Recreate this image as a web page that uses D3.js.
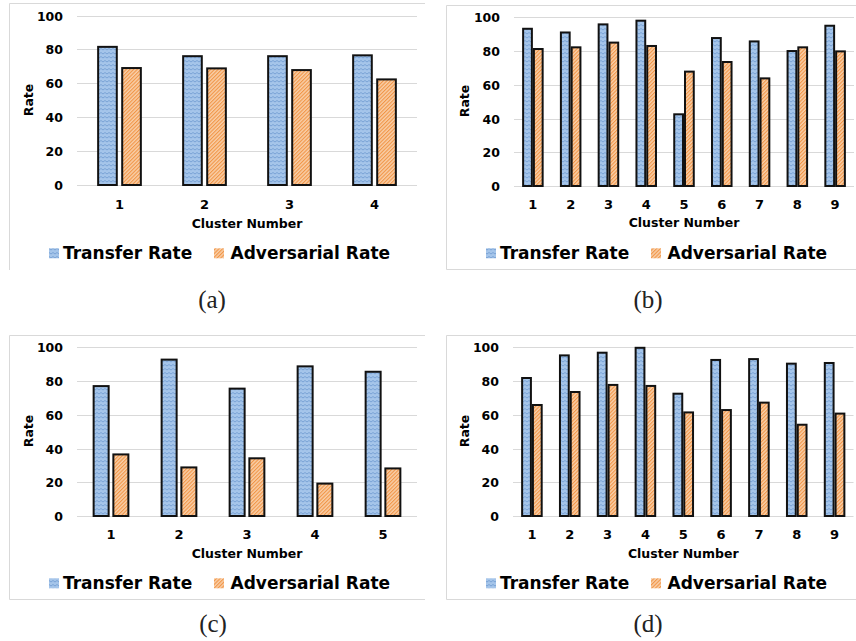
<!DOCTYPE html>
<html>
<head>
<meta charset="utf-8">
<script src="https://cdn.jsdelivr.net/npm/d3@7/dist/d3.min.js"></script>
<style>
  html, body { margin: 0; padding: 0; background: #fff; }
  svg { display: block; }
</style>
</head>
<body>
<svg id="fig" width="856" height="641"></svg>
<script>
// ---- data -------------------------------------------------------------
const categoriesA = ["1", "2", "3", "4"];
const transferA = [81.5, 76, 76, 76.5];
const adversarialA = [69, 68.8, 67.8, 62.3];

const categoriesB = ["1", "2", "3", "4", "5", "6", "7", "8", "9"];
const transferB = [93.2, 91, 95.8, 98, 42.5, 87.7, 85.7, 80, 95];
const adversarialB = [81.2, 82.2, 85, 83, 67.8, 73.5, 63.8, 82.2, 79.8];

const categoriesC = ["1", "2", "3", "4", "5"];
const transferC = [77, 92.7, 75.5, 88.7, 85.5];
const adversarialC = [36.5, 28.8, 34.2, 19.2, 28.2];

const categoriesD = ["1", "2", "3", "4", "5", "6", "7", "8", "9"];
const transferD = [81.8, 95.2, 96.8, 99.7, 72.5, 92.5, 93, 90.3, 90.7];
const adversarialD = [65.8, 73.5, 77.7, 77.1, 61.4, 62.8, 67.2, 54.1, 60.7];

const yTicks = [0, 20, 40, 60, 80, 100];
const seriesNames = ["Transfer Rate", "Adversarial Rate"];
const captions = ["(a)", "(b)", "(c)", "(d)"];
const xTitle = "Cluster Number";
const yTitle = "Rate";

// ---- layout of the four sub-figures ------------------------------------
const panels = [
  { cats: categoriesA, s1: transferA, s2: adversarialA, caption: captions[0],
    frame: { x: 9.5, y: 3.5, r: 425, b: 270, bottom: false },
    plot: { x0: 77, x1: 417, zero: 185, top: 15.5 },
    barFrac: 0.243, gapFrac: 0.04,
    catY: 204, titleY: 223, rateX: 28, rateY: 100, legendY: 253.3,
    capX: 212, capY: 300 },
  { cats: categoriesB, s1: transferB, s2: adversarialB, caption: captions[1],
    frame: { x: 446.5, y: 5.5, r: 856, b: 269.5, bottom: true },
    plot: { x0: 514, x1: 854, zero: 186, top: 17.3 },
    barFrac: 0.285, gapFrac: 0,
    catY: 204, titleY: 222.7, rateX: 464, rateY: 101, legendY: 253.3,
    capX: 648, capY: 300 },
  { cats: categoriesC, s1: transferC, s2: adversarialC, caption: captions[2],
    frame: { x: 9.5, y: 335.5, r: 425, b: 599.5, bottom: true },
    plot: { x0: 77, x1: 417, zero: 516, top: 347.3 },
    barFrac: 0.25, gapFrac: 0.04,
    catY: 534, titleY: 553.3, rateX: 28, rateY: 431, legendY: 583.3,
    capX: 213, capY: 624 },
  { cats: categoriesD, s1: transferD, s2: adversarialD, caption: captions[3],
    frame: { x: 446.5, y: 335.5, r: 856, b: 599.5, bottom: true },
    plot: { x0: 513, x1: 853.5, zero: 516, top: 347.3 },
    barFrac: 0.285, gapFrac: 0,
    catY: 534, titleY: 553.3, rateX: 464, rateY: 431, legendY: 583.3,
    capX: 648, capY: 624 }
];

const FONT = "'DejaVu Sans', Verdana, sans-serif";
const svg = d3.select("#fig");

// ---- fill patterns -----------------------------------------------------
const defs = svg.append("defs");
const pBlue = defs.append("pattern").attr("id", "patBlue")
  .attr("patternUnits", "userSpaceOnUse").attr("width", 4).attr("height", 4);
pBlue.append("rect").attr("width", 4).attr("height", 4).attr("fill", "#a5c5ea");
pBlue.append("path").attr("d", "M-1 2 L1 0.5 L3 2 L5 0.5")
  .attr("fill", "none").attr("stroke", "#7aa3d6").attr("stroke-width", 1);

const pOrange = defs.append("pattern").attr("id", "patOrange")
  .attr("patternUnits", "userSpaceOnUse").attr("width", 2.6).attr("height", 2.6)
  .attr("patternTransform", "rotate(-45)");
pOrange.append("rect").attr("width", 2.6).attr("height", 2.6).attr("fill", "#f9cfa9");
pOrange.append("rect").attr("width", 2.6).attr("height", 1.1).attr("fill", "#f19546");

const fills = ["url(#patBlue)", "url(#patOrange)"];

// ---- draw each panel ---------------------------------------------------
panels.forEach(p => {
  const g = svg.append("g");

  // outer frame (left, top and, where shown, bottom edges)
  const f = p.frame;
  const framePath = `M${f.r},${f.y}H${f.x}V${f.b}` + (f.bottom ? `H${f.r}` : "");
  g.append("path").attr("d", framePath)
    .attr("fill", "none").attr("stroke", "#d9d9d9").attr("stroke-width", 1);

  const x = d3.scaleBand().domain(p.cats).range([p.plot.x0, p.plot.x1]);
  const y = d3.scaleLinear().domain([0, 100]).range([p.plot.zero, p.plot.top]);

  // horizontal gridlines
  g.append("g").selectAll("line").data(yTicks).join("line")
    .attr("x1", p.plot.x0).attr("x2", Math.min(p.plot.x1, 856))
    .attr("y1", d => Math.round(y(d)) + 0.5).attr("y2", d => Math.round(y(d)) + 0.5)
    .attr("stroke", "#d9d9d9").attr("stroke-width", 1);

  // y axis labels
  const ya = g.append("g").attr("transform", `translate(${p.plot.x0},0)`)
    .call(d3.axisLeft(y).tickValues(yTicks).tickSize(0).tickPadding(14));
  ya.select(".domain").remove();
  ya.selectAll("text")
    .attr("font-family", FONT).attr("font-weight", "bold")
    .attr("font-size", "12.5px").attr("fill", "#000").attr("dy", "0.36em");

  // x axis labels
  const xa = g.append("g").attr("transform", `translate(0,${p.plot.zero})`)
    .call(d3.axisBottom(x).tickSize(0));
  xa.select(".domain").remove();
  xa.selectAll("text")
    .attr("y", p.catY - p.plot.zero).attr("dy", "0.36em")
    .attr("font-family", FONT).attr("font-weight", "bold")
    .attr("font-size", "13px").attr("fill", "#000");

  // bars
  const bw = x.bandwidth() * p.barFrac;
  const gap = x.bandwidth() * p.gapFrac;
  [p.s1, p.s2].forEach((vals, si) => {
    g.append("g").selectAll("rect").data(vals).join("rect")
      .attr("x", (d, i) => {
        const cx = x(p.cats[i]) + x.bandwidth() / 2;
        const left = si === 0 ? cx - gap / 2 - bw : cx + gap / 2;
        return left + 1;
      })
      .attr("width", bw - 2)
      .attr("y", d => y(d))
      .attr("height", d => p.plot.zero - y(d))
      .attr("fill", fills[si])
      .attr("stroke", "#111").attr("stroke-width", 2);
  });

  // axis titles
  g.append("text")
    .attr("x", (p.plot.x0 + p.plot.x1) / 2).attr("y", p.titleY).attr("dy", "0.36em")
    .attr("text-anchor", "middle")
    .attr("font-family", FONT).attr("font-weight", "bold").attr("font-size", "12.5px")
    .text(xTitle);
  g.append("text")
    .attr("transform", `translate(${p.rateX},${p.rateY}) rotate(-90)`)
    .attr("dy", "0.36em").attr("text-anchor", "middle")
    .attr("font-family", FONT).attr("font-weight", "bold").attr("font-size", "12.5px")
    .text(yTitle);

  // legend
  const lx = p.frame.x - 0.5;
  const legendItems = [
    { mx: lx + 40, tx: lx + 54, name: seriesNames[0], fill: fills[0] },
    { mx: lx + 205, tx: lx + 221.5, name: seriesNames[1], fill: fills[1] }
  ];
  legendItems.forEach(it => {
    g.append("rect").attr("x", it.mx).attr("y", p.legendY - 5)
      .attr("width", 10).attr("height", 10).attr("fill", it.fill);
    g.append("text").attr("x", it.tx).attr("y", p.legendY).attr("dy", "0.36em")
      .attr("font-family", FONT).attr("font-weight", "bold").attr("font-size", "17px")
      .attr("fill", "#000")
      .text(it.name);
  });

  // caption
  g.append("text").attr("x", p.capX).attr("y", p.capY).attr("dy", "0.3em")
    .attr("text-anchor", "middle")
    .attr("font-family", "'Liberation Serif', 'DejaVu Serif', serif")
    .attr("font-size", "25px").attr("fill", "#222")
    .text(p.caption);
});
</script>
</body>
</html>
